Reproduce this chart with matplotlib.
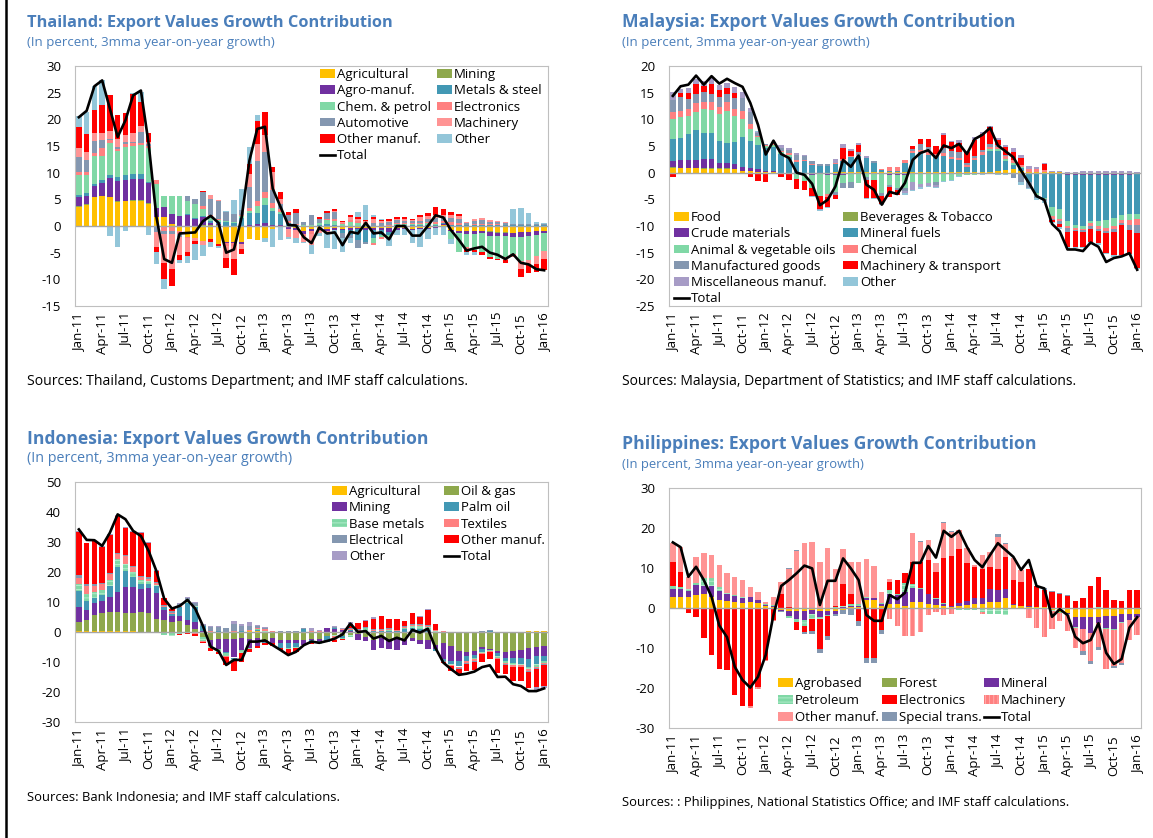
import numpy as np
import matplotlib
matplotlib.use("Agg")
import matplotlib.pyplot as plt
from matplotlib.patches import Patch
from matplotlib.lines import Line2D

plt.rcParams['font.family'] = ['Open Sans', 'DejaVu Sans']
plt.rcParams['axes.unicode_minus'] = False
plt.rcParams['hatch.linewidth'] = 0.6

# ---- x axis (monthly, Jan-11 .. Jan-16) ----
tick_labels = ['Jan-11', 'Apr-11', 'Jul-11', 'Oct-11', 'Jan-12', 'Apr-12', 'Jul-12',
               'Oct-12', 'Jan-13', 'Apr-13', 'Jul-13', 'Oct-13', 'Jan-14', 'Apr-14',
               'Jul-14', 'Oct-14', 'Jan-15', 'Apr-15', 'Jul-15', 'Oct-15', 'Jan-16']

# ---- Thailand ----
th_agri = [3.6, 4.0, 5.4, 5.6, 5.4, 4.5, 4.6, 4.7, 4.7, 4.2,
           1.6, 1.7, 0.3, -1.0, -2.0, -2.3, -2.8, -2.5, -3.3, -3.0,
           -3.0, -3.0, -2.5, -2.7, -2.2, -0.5, 0.0, -0.2, -0.3, -1.0,
           -0.6, -0.5, -0.5, -0.4, -0.5, -0.3, -0.3, -0.3, -0.3, -0.4,
           -0.4, -0.3, -0.3, -0.5, -0.3, -0.3, -0.2, 0.2, -0.8, -1.0,
           -1.0, -1.0, -1.0, -1.0, -1.2, -1.2, -1.3, -1.2, -1.2, -1.0,
           -0.9]
th_mining = [0.1, 0.1, 0.1, 0.1, 0.1, 0.1, 0.1, 0.1, 0.1, 0.1,
             0.0, 0.0, 0.0, 0.0, 0.0, 0.0, 0.1, 0.1, 0.1, 0.0,
             0.0, 0.0, 0.0, 0.0, 0.0, 0.0, 0.0, 0.0, 0.0, 0.0,
             0.0, 0.0, 0.0, 0.0, 0.0, 0.0, 0.0, 0.0, 0.0, 0.0,
             0.0, 0.0, 0.0, 0.0, 0.0, 0.0, 0.0, 0.0, 0.0, 0.0,
             0.0, 0.0, 0.0, -0.2, -0.1, -0.1, 0.0, 0.0, 0.0, 0.0,
             0.0]
th_agro = [1.8, 1.6, 2.0, 2.4, 3.5, 3.9, 3.9, 4.0, 4.0, 3.8,
           1.8, 1.8, 2.0, 1.8, 2.0, 1.3, 1.5, 0.5, 0.3, -0.2,
           -0.2, -0.3, 0.2, 0.3, 0.5, 0.1, 0.1, -0.4, -0.4, -0.5,
           -0.4, -0.3, -0.4, -0.3, -0.3, -0.4, -0.3, -0.5, -0.4, -0.4,
           -0.8, -0.4, -0.2, -0.3, -0.3, -0.2, -0.2, 0.2, -0.2, -0.4,
           -0.5, -0.5, -0.4, -0.6, -0.6, -0.6, -0.8, -0.8, -0.7, -0.6,
           -0.5]
th_metals = [0.3, 0.4, 0.4, 0.5, 0.5, 0.7, 1.0, 1.0, 1.0, 0.2,
             0.0, 0.0, 0.0, 0.0, 0.2, 0.2, 0.3, 0.3, 0.3, 0.8,
             0.5, 1.5, 2.3, 2.2, 3.5, 2.7, 2.2, 0.5, 0.1, 0.0,
             0.0, 0.2, 0.3, 0.2, -0.5, -1.0, -2.0, -2.2, -1.5, -0.8,
             -0.5, 0.1, 0.1, 0.1, 0.1, 0.2, 0.2, 0.2, 0.2, 0.2,
             0.1, 0.1, 0.1, 0.1, 0.1, 0.1, 0.1, 0.1, 0.1, 0.1,
             0.1]
th_chem = [3.8, 3.5, 5.3, 4.5, 6.1, 4.8, 5.2, 5.2, 5.3, 6.4,
           4.5, 2.2, 3.3, 3.8, 2.5, 2.6, 1.2, 0.8, 0.5, 0.2,
           0.3, 0.3, 0.4, 1.2, 1.3, 0.5, 0.3, 0.1, 0.1, 0.1,
           0.2, 0.3, 0.8, 0.8, 0.3, 0.7, 0.5, 0.3, -1.0, -0.5,
           -0.5, 0.3, 0.3, 0.3, 0.2, 0.3, 0.2, -0.2, -1.5, -3.4,
           -2.5, -3.0, -3.5, -4.0, -4.3, -4.0, -3.2, -4.5, -4.5, -4.0,
           -3.3]
th_elec = [0.5, 0.5, 0.5, 1.5, 0.5, 0.5, 0.5, 0.5, 0.5, 0.3,
           0.8, -1.0, -1.0, -0.5, -0.3, 0.0, 0.7, 0.3, 0.2, -0.5,
           -0.5, 0.2, 0.5, 1.0, 1.0, 1.0, 0.5, 0.3, 0.2, -0.3,
           -0.5, -0.2, 0.2, 0.3, 0.2, 0.4, 0.4, 0.2, -0.3, -0.4,
           0.2, 0.2, 0.2, 0.2, 0.2, 0.2, 0.3, 0.3, 0.5, 0.4,
           -0.3, 0.3, 0.3, 0.2, 0.2, -0.5, -0.5, 0.0, 0.0, 0.0,
           0.0]
th_auto = [2.8, 2.2, 2.3, 1.6, 0.3, 0.3, 0.5, 0.3, 2.0, 0.3,
           -1.2, -0.5, -0.5, -0.5, 0.9, 1.0, 2.5, 3.0, 3.2, 1.6,
           1.5, 1.0, 4.0, 7.5, 7.5, 2.5, 1.0, 1.2, 2.0, 0.6,
           1.8, 0.8, 1.2, 1.3, -1.0, -0.5, -1.5, -0.4, 0.5, 0.5,
           0.5, 0.5, 0.4, 0.3, 0.5, 0.6, 0.8, 0.8, 0.8, 0.8,
           0.5, 0.6, 0.8, 0.5, 0.5, 0.5, 0.3, 0.3, 0.3, 0.2,
           0.2]
th_mach = [1.8, 1.5, 1.5, 1.3, 1.4, 1.5, 1.2, 1.7, 1.2, 0.5,
           -2.7, -5.5, -6.5, -3.5, -2.5, -0.5, -0.8, 0.8, 0.2, -2.3,
           -2.5, -1.0, 2.3, 3.2, 3.3, 3.3, 1.0, -1.5, -1.6, -1.2,
           -2.1, -0.4, -0.4, 0.2, 0.3, 0.5, 0.4, 0.4, 0.8, 0.5,
           0.3, 0.3, 0.3, 0.2, 0.6, 0.5, 0.6, 0.3, 0.6, 0.4,
           0.2, 0.3, 0.3, 0.3, 0.2, 0.2, 0.0, -1.5, -1.0, -1.5,
           -1.5]
th_othman = [3.8, 3.5, 4.2, 5.1, 6.7, 4.6, 4.1, 7.2, 4.4, 1.7,
             -0.9, -2.9, -3.3, -0.8, -0.9, -0.6, 0.3, -0.5, -0.5, -1.9,
             -3.0, -1.0, 2.0, 4.2, 4.3, 1.0, 1.2, 0.5, 0.8, 0.1,
             0.0, 0.3, 0.3, 0.4, 0.2, 0.5, 0.4, 0.3, 0.3, 0.2,
             0.3, 0.2, 0.3, 0.2, 0.5, 0.7, 1.5, 1.2, 0.5, 0.4,
             -0.5, -0.3, -0.5, -0.3, -0.2, -0.5, 0.0, -1.5, -1.5, -1.5,
             -2.0]
th_other = [2.1, 4.0, 4.5, 4.7, -1.9, -3.9, -1.0, 0.3, 2.0, -1.6,
            -2.4, -2.0, 0.0, -0.7, -1.2, -2.9, -2.1, -0.9, -0.4, 0.2,
            2.5, 4.0, 3.1, 1.3, -0.8, -3.5, -2.7, -0.3, -0.8, -0.1,
            -1.6, -0.5, -2.9, -3.7, -2.5, -1.0, 1.0, 2.8, 0.5, 0.1,
            -1.6, -0.9, -1.1, -2.3, -3.3, -2.0, -1.3, -1.4, -0.9, 0.0,
            -0.6, -0.7, 0.0, 0.0, 0.0, 0.0, 2.7, 2.9, 2.0, 0.5,
            0.3]
th_total = [20.4, 21.6, 26.2, 27.3, 22.0, 16.7, 19.8, 24.5, 25.4, 15.4,
            1.7, -6.2, -6.9, -1.4, -1.3, -1.2, 0.9, 1.9, 0.6, -5.0,
            -4.4, 1.7, 12.3, 18.2, 18.6, 7.0, 3.6, 0.2, 0.1, -2.1,
            -3.2, -0.3, -1.4, -1.2, -3.6, -1.1, -1.4, 0.6, -1.4, -1.2,
            -2.5, 0.0, 0.0, -1.8, -1.8, 0.0, 2.0, 1.6, -0.8, -2.6,
            -4.6, -4.2, -3.9, -5.0, -5.4, -6.2, -5.3, -6.9, -7.2, -8.1,
            -8.3]
th_names = ['Agricultural', 'Mining', 'Agro-manuf.', 'Metals & steel', 'Chem. & petrol',
            'Electronics', 'Automotive', 'Machinery', 'Other manuf.', 'Other']

# ---- Malaysia ----
my_food = [0.9, 0.8, 0.8, 0.8, 0.7, 0.7, 0.7, 0.7, 0.6, 0.4,
           0.3, 0.2, 0.1, 0.1, 0.0, 0.0, 0.0, 0.0, 0.0, 0.0,
           0.0, 0.1, 0.1, 0.1, 0.1, 0.1, 0.1, 0.1, 0.1, 0.1,
           0.1, 0.1, 0.1, 0.1, 0.1, 0.1, 0.1, 0.1, 0.1, 0.1,
           0.1, 0.1, 0.3, 0.5, 0.6, 0.3, 0.1, 0.1, 0.1, 0.1,
           0.1, -0.2, -0.2, -0.3, -0.3, -0.3, -0.3, -0.3, -0.3, -0.3,
           -0.1]
my_bev = [0.1, 0.1, 0.1, 0.1, 0.1, 0.1, 0.1, 0.1, 0.1, 0.0,
          0.0, 0.0, 0.0, 0.0, 0.0, 0.0, 0.0, 0.0, 0.0, 0.0,
          0.0, 0.0, 0.0, 0.0, 0.0, 0.0, 0.0, 0.0, 0.0, 0.0,
          0.0, 0.0, 0.0, 0.0, 0.0, 0.0, 0.0, 0.0, 0.0, 0.0,
          0.0, 0.0, 0.0, 0.0, 0.0, 0.0, 0.0, 0.0, 0.0, 0.0,
          0.0, 0.0, 0.0, 0.0, 0.0, 0.0, 0.0, 0.0, 0.0, 0.0,
          0.0]
my_crude = [1.2, 1.4, 1.5, 1.5, 1.7, 1.7, 1.0, 1.0, 1.0, 0.6,
            0.5, 0.4, 0.3, 0.2, -0.3, -0.3, -0.3, -0.3, -0.4, -0.3,
            -0.5, -0.5, -0.4, -0.3, -0.2, -0.3, -0.3, -0.3, -0.4, -0.4,
            -0.4, -0.3, -0.3, -0.3, -0.2, -0.2, -0.2, -0.2, -0.2, -0.2,
            -0.2, -0.1, -0.2, -0.3, -0.3, -0.3, -0.3, -0.3, -0.2, -0.3,
            -0.3, -0.3, -0.2, -0.2, -0.2, -0.2, -0.2, -0.2, -0.2, -0.2,
            -0.1]
my_mineral = [4.1, 4.2, 4.9, 5.6, 4.9, 5.0, 4.2, 3.8, 4.0, 5.6,
              5.2, 4.5, 4.3, 4.5, 3.5, 3.0, 2.0, 2.1, 1.4, 1.3,
              1.2, 1.6, 2.0, 2.8, 3.0, 2.7, 1.8, 0.4, 0.3, 0.3,
              1.8, 3.5, 3.7, 3.3, 3.1, 3.0, 2.4, 2.3, 1.0, 2.2,
              3.3, 4.0, 3.8, 1.7, 0.8, 0.5, -1.5, -3.5, -4.5, -6.2,
              -6.5, -8.5, -9.5, -9.5, -8.5, -8.5, -8.3, -8.0, -7.5, -7.3,
              -7.5]
my_animal = [3.8, 3.9, 3.3, 3.4, 4.5, 4.3, 5.0, 6.0, 5.0, 3.5,
             2.2, 1.5, 0.3, 0.4, 0.3, 0.3, -0.8, -1.2, -2.5, -4.0,
             -3.5, -3.2, -1.5, -1.5, -1.8, -0.5, -1.0, -3.5, -2.0, -2.5,
             -2.5, -1.5, -1.8, -1.7, -1.6, -1.3, -1.2, -0.5, -0.2, -0.2,
             -0.1, 0.3, 0.3, 0.4, 0.5, 0.2, 0.1, -0.3, -0.3, -1.7,
             -1.8, -1.0, -0.5, -0.5, -0.5, -1.0, -1.6, -1.5, -0.9, -1.0,
             -1.0]
my_chem = [1.3, 1.2, 1.3, 1.6, 1.3, 1.5, 1.4, 1.6, 1.3, 1.4,
           1.0, 0.3, 0.1, 0.3, 0.3, 0.3, 0.3, 0.2, 0.2, 0.0,
           -0.5, 0.2, 0.5, 0.3, 0.3, 0.0, 0.0, 0.2, 0.6, 0.6,
           0.4, 0.5, 0.5, 0.5, 0.3, 0.5, 0.5, 0.4, 0.3, 0.4,
           0.5, 0.4, 0.4, 0.5, 0.5, 0.5, 0.5, 0.5, 0.4, -0.4,
           -0.5, -0.4, -0.3, -0.3, -0.5, -0.5, -0.5, -0.6, -0.5, -1.0,
           -1.2]
my_manuf = [2.3, 2.5, 1.9, 1.8, 1.9, 1.4, 1.8, 1.6, 2.0, 2.5,
            2.2, 0.5, 0.2, 0.2, 0.5, 0.7, 1.0, 0.8, 0.5, 0.4,
            0.4, -0.5, -1.0, -1.0, 0.5, -0.5, 0.2, -0.5, -0.2, -0.3,
            -0.5, 0.3, 1.0, 1.0, -0.5, 1.0, 1.0, 1.0, 0.4, 0.5,
            0.4, 0.5, 0.4, 0.3, -0.7, -1.5, -1.0, -0.7, -0.4, -0.3,
            -0.5, -0.7, -0.3, -0.4, -0.5, -0.5, -0.4, -0.6, -0.5, -1.0,
            -1.4]
my_mach = [-0.8, 0.8, 1.2, 1.8, 1.2, 2.0, 1.3, 1.0, 1.0, 0.0,
           -0.8, -1.6, -1.8, 0.0, -0.5, -1.0, -2.0, -1.8, -1.5, -2.5,
           -2.0, -0.8, 2.0, 0.8, 1.3, -3.5, -3.5, -1.5, -2.0, -1.0,
           0.0, 0.6, 1.0, 1.5, 1.5, 2.5, 1.7, 1.8, 2.0, 3.0,
           3.0, 3.2, 1.0, 1.5, 1.5, 1.3, 0.0, 0.0, 1.2, -0.3,
           -0.6, -2.8, -3.0, -2.8, -2.5, -2.2, -3.7, -4.3, -5.5, -4.5,
           -6.5]
my_misc = [1.4, 0.8, 0.8, 1.0, 0.9, 1.0, 0.9, 1.0, 1.0, 1.2,
           0.7, 0.3, 0.0, 0.1, 0.5, 0.3, 0.3, 0.3, 0.0, -0.2,
           0.0, 0.7, 0.8, 0.4, 0.4, 0.3, 0.0, 0.0, 0.0, 0.0,
           -0.5, -1.4, -0.6, -0.5, -0.3, 0.3, 0.3, 0.5, 0.2, 0.4,
           0.3, 0.3, 0.3, 0.3, 0.7, 0.6, 0.6, 0.5, 0.2, 0.2,
           0.2, 0.2, 0.2, 0.3, 0.3, 0.3, 0.3, 0.3, 0.3, 0.3,
           0.2]
my_other = [0.0, 0.0, 0.0, 0.0, 0.0, 0.0, 0.0, 0.0, 0.0, 0.0,
            0.0, 0.2, 0.0, 0.0, 0.0, 0.0, 0.0, 0.0, -0.1, -0.2,
            -0.2, 0.0, 0.0, 0.0, 0.0, -0.1, -0.1, -0.2, 0.0, 0.0,
            -0.2, -0.3, -0.3, -0.2, -0.2, -0.3, -0.2, -0.2, -0.1, -0.1,
            -0.1, -0.1, -0.2, -0.2, 0.0, -0.5, -0.3, -0.3, -0.2, -0.3,
            -0.3, -0.3, -0.2, -0.2, -0.2, -0.3, -0.3, -0.3, -0.2, -0.2,
            -0.2]
my_total = [14.4, 16.2, 16.5, 18.2, 16.5, 18.1, 16.7, 17.6, 16.8, 16.1,
            13.1, 9.0, 3.4, 6.0, 3.5, 2.75, 0.0, -0.4, -2.1, -6.1,
            -5.1, -2.6, 2.4, 1.1, 3.2, -2.25, -3.2, -6.0, -3.6, -4.0,
            -1.9, 2.4, 3.7, 4.2, 2.75, 5.1, 4.6, 5.4, 3.5, 6.3,
            7.1, 8.4, 5.1, 4.0, 2.9, 0.4, -1.9, -4.4, -5.1, -9.6,
            -11.0, -14.4, -14.4, -14.7, -13.1, -13.9, -16.75, -16.0, -15.7, -15.1,
            -18.2]
my_names = ['Food', 'Beverages & Tobacco', 'Crude materials', 'Mineral fuels',
            'Animal & vegetable oils', 'Chemical', 'Manufactured goods',
            'Machinery & transport', 'Miscellaneous manuf.', 'Other']

# ---- Indonesia ----
id_agri = [0.2, 0.2, 0.2, 0.3, 0.3, 0.3, 0.2, 0.2, 0.1, 0.1,
           0.0, 0.0, 0.0, 0.0, 0.0, 0.0, 0.0, 0.0, 0.0, 0.0,
           0.0, 0.0, 0.3, 0.4, 0.0, 0.0, 0.0, 0.0, 0.0, 0.0,
           0.0, 0.0, 0.0, 0.0, 0.0, 0.0, 0.0, 0.0, 0.0, 0.0,
           0.0, 0.0, 0.0, 0.0, 0.0, 0.0, 0.0, 0.0, 0.0, 0.0,
           0.0, 0.0, 0.0, 0.0, 0.0, 0.0, 0.0, 0.0, 0.3, 0.3,
           0.2]
id_oil = [3.2, 3.7, 5.4, 6.1, 6.5, 6.4, 6.1, 6.1, 6.6, 6.1,
          4.3, 3.9, 3.3, 3.8, 2.2, 1.0, -1.5, -2.5, -2.2, -2.2,
          -2.2, -2.0, -2.3, -2.0, -2.5, -2.0, -2.8, -2.8, -2.5, -2.7,
          -2.3, -2.3, -1.2, -1.0, -1.3, -1.0, -0.8, -1.5, -2.5, -2.0,
          -2.4, -2.3, -2.7, -2.0, -2.5, -2.5, -4.2, -3.5, -4.5, -6.2,
          -6.5, -6.3, -5.0, -5.5, -6.3, -6.5, -6.3, -6.0, -5.3, -5.0,
          -4.8]
id_mining = [4.9, 3.6, 4.1, 3.8, 4.9, 6.5, 8.7, 8.7, 7.5, 8.6,
             8.6, 3.4, 2.2, 1.5, 1.8, 2.2, 0.4, -2.0, -3.5, -4.5,
             -6.3, -4.0, -3.0, -2.8, -0.8, -1.5, -1.0, -1.0, -1.0, -1.5,
             -0.5, -0.8, 1.2, 1.0, 0.7, 0.5, -2.0, -1.5, -3.5, -3.3,
             -3.3, -3.6, -1.5, -1.0, -1.5, -3.0, -1.5, -5.5, -5.3, -3.5,
             -1.5, -1.3, -0.8, -0.5, -0.8, -2.0, -2.5, -2.5, -3.8, -3.0,
             -3.3]
id_palm = [5.4, 3.0, 1.5, 2.3, 3.8, 8.4, 5.5, 3.3, 1.7, 1.2,
           2.4, 1.2, 0.5, 3.2, 5.6, 5.1, 1.5, -0.3, 0.3, -0.3,
           -0.5, 0.3, 0.2, 0.3, -0.5, -0.3, -1.5, -1.5, -1.5, 1.1,
           -0.5, -0.5, -2.0, 0.5, -0.8, 0.3, 0.2, 0.3, 0.2, 0.2,
           0.3, 0.3, 1.0, 1.5, 1.0, 0.7, -0.5, -0.5, -0.8, -1.5,
           -1.5, -1.0, -0.8, 0.5, -1.0, -1.0, -1.5, -2.0, -2.5, -2.8,
           -1.5]
id_base = [2.3, 2.3, 2.2, 1.5, 2.0, 2.9, 2.3, 1.7, 1.5, 1.0,
           0.5, -1.0, -1.2, -0.7, 0.3, 0.3, -1.5, -0.5, -1.0, -1.0,
           -0.5, -1.0, -0.3, 0.3, 0.2, 0.0, 0.0, -0.5, -0.3, -0.3,
           -0.3, -0.3, -0.3, -0.3, -0.3, -0.5, 0.3, 1.0, 0.3, 0.3,
           0.5, 0.2, 0.3, 0.5, 1.0, 1.0, 0.3, -0.3, -0.3, -0.3,
           -0.3, -0.5, -0.3, -0.3, -0.5, -0.7, -0.7, -0.5, -0.8, -0.8,
           -0.8]
id_tex = [2.0, 2.5, 2.0, 2.0, 1.8, 1.5, 2.6, 1.8, 1.0, 0.8,
          0.5, 0.2, 0.3, 0.2, -0.3, -0.8, -0.3, 0.2, 0.2, -0.2,
          0.5, 0.2, 0.2, 0.3, 0.7, 0.2, 0.1, 0.1, 0.1, 0.0,
          0.2, 0.2, -0.2, -1.2, 0.2, 0.3, 0.2, 0.1, 0.3, 0.3,
          0.2, 0.2, 0.5, 0.3, 0.3, 0.3, 0.3, 0.3, -0.3, -0.5,
          -0.5, -0.7, -0.5, -0.3, -0.3, -0.4, -0.5, -0.5, -0.5, -0.3,
          -0.3]
id_elec = [1.0, 0.7, 0.6, 0.5, 0.3, 0.3, 0.3, 0.3, 0.3, 0.4,
           0.3, 0.3, 0.7, 0.8, 1.4, 1.0, 0.4, 1.5, 1.3, 1.2,
           2.1, 1.5, 1.2, 0.8, 0.3, 0.2, 0.1, 0.1, 0.1, 0.2,
           0.3, 0.2, 0.2, 0.2, 0.2, 0.3, 0.2, 0.3, 0.2, 0.2,
           0.2, 0.1, 0.3, 0.3, 0.3, 0.3, 0.2, -0.2, -0.2, -0.2,
           -0.3, -0.2, 0.2, 0.2, -0.2, -0.3, -0.3, -0.3, -0.3, -0.3,
           -0.3]
id_othman = [14.2, 13.6, 14.2, 11.8, 12.9, 12.5, 9.0, 11.4, 14.3, 11.5,
             3.9, 2.4, 0.6, -0.2, -0.3, -0.5, -0.5, -1.0, -0.5, -2.8,
             -3.5, -3.0, -1.0, -0.6, -0.5, -0.7, -0.6, -1.5, -1.5, -0.2,
             -0.3, -0.2, 0.0, -0.8, -0.3, 1.3, 2.0, 2.0, 3.5, 4.2,
             3.0, 3.6, 1.5, 3.6, 2.4, 5.0, 2.0, -0.3, -1.5, -2.0,
             -2.3, -2.5, -2.5, -2.5, -4.5, -3.2, -4.5, -4.5, -5.5, -6.0,
             -7.0]
id_other = [0.3, 0.2, 0.2, 0.2, 0.2, 0.2, 0.2, 0.2, 0.2, 0.2,
            0.2, 0.0, 0.2, 0.3, 0.4, 0.3, 0.3, 0.2, 0.3, 0.3,
            1.2, 0.6, 1.3, 0.3, 0.4, 0.1, 0.1, 0.1, 0.1, 0.1,
            0.9, 0.3, 0.0, 0.2, 0.2, 0.5, 0.1, 0.2, 0.5, 0.2,
            0.1, 0.1, 0.2, 0.2, 0.2, 0.3, -0.3, 0.0, 0.0, 0.0,
            0.0, 0.0, 0.2, 0.1, 0.0, 0.0, 0.1, 0.0, 0.0, -1.0,
            -0.5]
id_total = [34.2, 30.7, 30.6, 28.7, 33.1, 39.2, 37.6, 33.7, 32.0, 27.0,
            20.3, 11.1, 7.8, 8.7, 10.7, 7.8, 2.0, -4.9, -6.3, -11.0,
            -9.3, -9.3, -3.2, -3.2, -2.8, -4.4, -6.0, -7.7, -6.6, -4.4,
            -3.2, -3.6, -3.0, -2.2, -0.8, 2.8, 0.0, 0.3, -2.2, -1.3,
            -3.0, -1.9, -2.8, 0.7, -0.2, 1.1, -5.4, -10.2, -12.4, -14.3,
            -13.9, -13.2, -11.7, -11.1, -15.0, -14.9, -17.4, -18.0, -19.7, -19.7,
            -18.8]
id_names = ['Agricultural', 'Oil & gas', 'Mining', 'Palm oil', 'Base metals',
            'Textiles', 'Electrical', 'Other manuf.', 'Other']

# ---- Philippines ----
ph_agro = [2.7, 2.8, 2.8, 3.3, 3.5, 2.7, 2.0, 1.7, 1.5, 1.2,
           1.5, 1.3, 0.5, 0.3, -0.5, -0.7, -0.8, -0.8, -0.5, -0.8,
           -0.8, -0.8, -0.5, 0.2, 0.3, 2.0, 2.0, 0.5, 1.0, 1.0,
           0.6, 1.5, 1.5, 1.0, 0.8, 0.5, 0.2, 0.4, 0.8, 1.0,
           1.0, 1.5, 1.6, 2.5, 0.8, 0.5, 0.3, 0.2, 0.2, -0.5,
           -1.0, -1.3, -2.2, -2.2, -2.2, -2.3, -2.0, -2.0, -1.5, -1.5,
           -1.5]
ph_forest = [0.0, 0.0, 0.0, 0.0, 0.0, 0.0, 0.0, 0.0, 0.0, 0.0,
             0.0, 0.0, 0.0, 0.0, 0.0, 0.0, 0.0, 0.0, 0.0, 0.0,
             0.0, 0.0, 0.0, 0.0, 0.0, 0.0, 0.0, 0.0, 0.0, 0.0,
             0.0, 0.0, 0.0, 0.0, 0.0, 0.0, 0.0, 0.0, 0.0, 0.0,
             0.0, 0.0, 0.0, 0.0, 0.0, 0.0, 0.0, 0.0, 0.0, 0.0,
             0.0, 0.0, 0.0, 0.0, 0.0, 0.0, 0.0, 0.0, 0.0, 0.0,
             0.0]
ph_mineral = [2.1, 2.0, 1.5, 2.5, 2.1, 2.8, 2.2, 1.7, 1.5, 1.3,
              1.2, 0.7, 0.2, 0.2, -0.3, -1.3, -2.0, -2.3, -1.0, -1.5,
              -1.0, -0.8, 0.3, 0.3, 0.2, 0.4, 0.4, 0.5, 2.5, 2.3,
              3.4, 3.5, 3.3, 2.5, 1.5, 0.5, 0.2, 0.8, 1.0, 1.5,
              1.5, 3.2, 3.0, 2.3, 0.2, 0.1, 0.1, 0.0, 0.0, 0.0,
              0.0, -0.2, -2.5, -3.0, -4.0, -1.5, -3.0, -3.3, -2.0, -1.5,
              -0.8]
ph_petro = [0.7, 0.5, 0.4, 0.5, 1.9, 2.0, 1.0, 0.3, 0.2, 0.2,
            0.1, 0.1, 0.3, 0.2, 0.1, -0.5, -0.8, -1.3, -1.3, -0.5,
            -0.3, 0.2, 0.2, 0.5, 0.5, 0.3, 0.2, 0.3, 1.0, 0.3,
            2.3, 1.0, 0.2, 0.1, 0.1, 0.2, -0.2, -0.4, -0.4, -0.5,
            -1.0, -1.5, -1.6, -1.8, -0.3, 0.0, 0.0, 0.0, -0.2, -0.2,
            -0.3, -0.2, -0.2, 0.0, 0.0, 0.3, -0.3, -0.3, -0.3, 0.0,
            0.0]
ph_elec = [5.9, 3.8, -1.3, -2.3, -7.5, -11.7, -15.2, -15.5, -21.8, -24.4,
           -24.6, -19.8, -13.0, -3.0, 3.3, 0.2, -2.0, -1.6, -3.0, -7.5,
           -5.0, 0.3, 5.5, 2.4, -3.3, -12.5, -12.5, -5.5, 2.1, 3.4,
           2.5, 5.5, 6.5, 8.5, 6.5, 11.2, 12.6, 13.5, 9.4, 7.7,
           7.2, 5.5, 5.2, 8.0, 6.0, 6.0, 9.3, 5.3, 4.3, 4.0,
           3.5, 3.0, 1.8, 2.6, 5.5, 7.4, 4.5, 2.0, 1.8, 4.5,
           4.5]
ph_mach = [0.0, 0.0, 0.0, 0.0, 0.0, 0.0, 0.0, 0.0, 0.0, 0.0,
           -0.3, -0.5, -0.3, -0.3, 0.0, 0.0, 0.0, 0.0, 0.0, 0.0,
           0.0, 0.0, 0.0, 0.0, 0.0, 0.0, 0.0, 0.0, -2.7, -4.5,
           -7.0, -7.0, -6.0, -1.8, -1.0, -1.8, -1.2, 0.0, 0.0, 0.0,
           -0.5, 0.0, 0.0, 0.0, 0.0, 0.0, -2.5, -5.0, -7.0, -4.5,
           -2.0, -4.0, -5.0, -5.5, -7.0, -6.0, -10.0, -9.0, -10.0, -5.0,
           -4.5]
ph_othman = [4.9, 6.2, 3.1, 6.5, 6.3, 5.7, 5.6, 5.0, 4.6, 4.3,
             2.5, 2.0, 0.6, 2.1, 3.2, 9.5, 14.3, 16.3, 16.6, 11.6,
             14.9, 9.2, 8.8, 8.2, 10.6, 9.5, 7.9, 2.8, 0.6, 0.0,
             0.0, 7.2, 5.0, 5.0, 2.3, 8.8, 6.0, 4.8, 3.7, 0.5,
             3.6, 3.8, 8.0, 3.2, 5.4, 3.0, 0.0, 0.0, 0.0, 0.0,
             0.0, 0.0, 0.0, 0.0, 0.0, 0.0, 0.0, 0.0, 0.0, 0.0,
             0.0]
ph_special = [0.0, 0.0, 0.0, 0.0, 0.0, 0.0, 0.0, 0.0, 0.0, 0.0,
              0.0, 0.0, 0.0, 0.0, -0.3, 0.4, 0.2, -0.6, -0.7, -0.9,
              -0.8, -0.5, -1.0, -1.7, -1.3, -1.3, -1.2, -1.0, 0.0, 0.0,
              0.0, 0.0, 0.2, 0.0, 0.0, 0.2, 0.2, 0.0, 0.0, 0.0,
              0.0, 0.0, 0.7, 0.3, 0.0, 0.0, 0.0, 0.0, 0.4, 0.3,
              0.3, 0.2, 0.0, -1.0, -0.8, -0.8, 0.0, -0.4, -0.5, 0.0,
              0.0]
ph_total = [16.4, 15.2, 7.8, 10.3, 7.0, 2.8, -4.4, -7.3, -14.7, -18.0,
            -19.9, -17.2, -11.75, -1.75, 5.5, 7.0, 8.7, 10.6, 9.9, 0.75,
            6.8, 6.8, 12.4, 9.9, 7.0, -1.75, -3.2, -3.2, 3.25, 2.2,
            3.8, 11.3, 11.3, 15.5, 12.6, 19.3, 17.8, 19.3, 15.3, 12.0,
            10.2, 13.25, 16.2, 14.5, 12.8, 9.5, 12.0, 5.5, 4.9, -2.2,
            -0.3, -1.75, -7.2, -8.8, -8.0, -3.8, -11.2, -14.0, -12.75, -4.9,
            -2.3]
ph_names = ['Agrobased', 'Forest', 'Mineral', 'Petroleum', 'Electronics',
            'Machinery', 'Other manuf.', 'Special trans.']

# colours
YEL, OLV, PUR, TEAL = '#FFC000', '#8EA84C', '#7030A0', '#4298B4'
GRN, SAL, GRY, RED = '#80D8A6', '#FF8080', '#8497B0', '#FF0000'
LBL, LAV, SAL2 = '#93C6D9', '#A79CC6', '#FF9494'
HATCH_EDGE = {'----': '#B9EFD0', '||||': '#FFB0B0'}

W, H = 1153, 838
fig = plt.figure(figsize=(W / 100, H / 100), dpi=100)
TITLE_C = '#4A7EBA'


def px_axes(left, top, right, bottom):
    return fig.add_axes([left / W, 1 - bottom / H, (right - left) / W, (bottom - top) / H])


def draw_panel(ax, parts, colors, total, ylo, yhi, ystep, hatches=None):
    n = len(total)
    x = np.arange(n)
    up = np.zeros(n)
    down = np.zeros(n)
    if hatches is None:
        hatches = [None] * len(parts)
    for vals, col, hat in zip(parts, colors, hatches):
        v = np.asarray(vals, dtype=float)
        base = np.where(v >= 0, up, down)
        if hat:
            ax.bar(x, v, 0.7, bottom=base, color=col, hatch=hat,
                   edgecolor=HATCH_EDGE[hat], linewidth=0)
        else:
            ax.bar(x, v, 0.7, bottom=base, color=col, linewidth=0)
        up += np.where(v > 0, v, 0)
        down += np.where(v < 0, v, 0)
    ax.axhline(0, color='#A6A6A6', lw=1.0, zorder=2.5)
    ax.plot(x, total, color='black', lw=1.9, zorder=3)
    ax.set_xlim(-0.5, n - 0.5)
    ax.set_ylim(ylo, yhi)
    ax.set_yticks(np.arange(ylo, yhi + 1, ystep))
    ax.set_xticks(np.arange(0, n, 3))
    ax.set_xticklabels(tick_labels, rotation=90)
    ax.tick_params(length=0, labelsize=9.5)
    ax.tick_params(axis='y', pad=10)
    ax.tick_params(axis='x', pad=5)
    for s in ax.spines.values():
        s.set_color('#BFBFBF')
        s.set_linewidth(0.8)


def legend_cols(items, xs, ytop, spacing=0.25, fs=9.5):
    # items listed row by row, one legend per column so columns sit where the original has them
    ncol = len(xs)
    for c, xp in enumerate(xs):
        col = items[c::ncol]
        hs = [h for h, _ in col]
        ls = [l for _, l in col]
        fig.legend(hs, ls, loc='upper left', bbox_to_anchor=(xp / W, 1 - ytop / H),
                   frameon=False, borderpad=0, borderaxespad=0, handlelength=1.15,
                   handleheight=0.6, handletextpad=0.15, labelspacing=spacing, fontsize=fs)


def items_for(names, colors, hatches=None):
    if hatches is None:
        hatches = [None] * len(names)
    out = []
    for nm, c, h in zip(names, colors, hatches):
        if h:
            out.append((Patch(facecolor=c, hatch=h, edgecolor=HATCH_EDGE[h], linewidth=0), nm))
        else:
            out.append((Patch(facecolor=c, linewidth=0), nm))
    return out


def header(x, ytitle, title, ysub, tsize, ssize):
    fig.text(x / W, 1 - ytitle / H, title, fontsize=tsize, fontweight='bold',
             color=TITLE_C, va='baseline')
    fig.text(x / W, 1 - ysub / H, '(In percent, 3mma year-on-year growth)', fontsize=ssize,
             color=TITLE_C, va='baseline')


total_item = (Line2D([0], [0], color='black', lw=1.9), 'Total')

# Thailand
ax1 = px_axes(75, 66, 548, 306)
th_cols = [YEL, OLV, PUR, TEAL, GRN, SAL, GRY, SAL2, RED, LBL]
draw_panel(ax1, [th_agri, th_mining, th_agro, th_metals, th_chem, th_elec, th_auto,
                 th_mach, th_othman, th_other], th_cols, th_total, -15, 30, 5)
legend_cols(items_for(th_names, th_cols) + [total_item], [320, 437], 68)
header(27, 27, 'Thailand: Export Values Growth Contribution', 46, 11.8, 9.5)
fig.text(27 / W, 1 - 385 / H, 'Sources: Thailand, Customs Department; and IMF staff calculations.',
         fontsize=10.1, va='baseline')

# Malaysia
ax2 = px_axes(669, 66, 1141, 306)
my_cols = [YEL, OLV, PUR, TEAL, GRN, SAL, GRY, RED, LAV, LBL]
draw_panel(ax2, [my_food, my_bev, my_crude, my_mineral, my_animal, my_chem, my_manuf,
                 my_mach, my_misc, my_other], my_cols, my_total, -25, 20, 5)
legend_cols(items_for(my_names, my_cols) + [total_item], [674, 843], 211)
header(622, 27, 'Malaysia: Export Values Growth Contribution', 46, 12.6, 9.5)
fig.text(622 / W, 1 - 385 / H, 'Sources: Malaysia, Department of Statistics; and IMF staff calculations.',
         fontsize=10, va='baseline')

# Indonesia
ax3 = px_axes(75, 482, 548, 722)
id_cols = [YEL, OLV, PUR, TEAL, GRN, SAL, GRY, RED, LAV]
id_hat = [None, None, None, None, '----', None, None, None, None]
draw_panel(ax3, [id_agri, id_oil, id_mining, id_palm, id_base, id_tex, id_elec,
                 id_othman, id_other], id_cols, id_total, -30, 50, 10, id_hat)
legend_cols(items_for(id_names, id_cols, id_hat) + [total_item], [332, 444], 485)
header(27, 444, 'Indonesia: Export Values Growth Contribution', 462, 12.6, 10.3)
fig.text(27 / W, 1 - 801 / H, 'Sources: Bank Indonesia; and IMF staff calculations.',
         fontsize=9.4, va='baseline')

# Philippines
ax4 = px_axes(669, 488, 1141, 728)
ph_cols = [YEL, OLV, PUR, GRN, RED, SAL, SAL2, GRY]
ph_hat = [None, None, None, '----', None, '||||', None, None]
draw_panel(ax4, [ph_agro, ph_forest, ph_mineral, ph_petro, ph_elec, ph_mach, ph_othman,
                 ph_special], ph_cols, ph_total, -30, 30, 10, ph_hat)
legend_cols(items_for(ph_names, ph_cols, ph_hat) + [total_item], [778, 882, 984], 677,
            spacing=0.31)
header(622, 449, 'Philippines: Export Values Growth Contribution', 468, 12.7, 9.4)
fig.text(622 / W, 1 - 806 / H,
         'Sources: : Philippines, National Statistics Office; and IMF staff calculations.',
         fontsize=9.4, va='baseline')

# black rule down the left edge
fig.add_artist(Line2D([6 / W, 6 / W], [0, 1], color='black', lw=1.8))

fig.savefig('out.png', dpi=100)
